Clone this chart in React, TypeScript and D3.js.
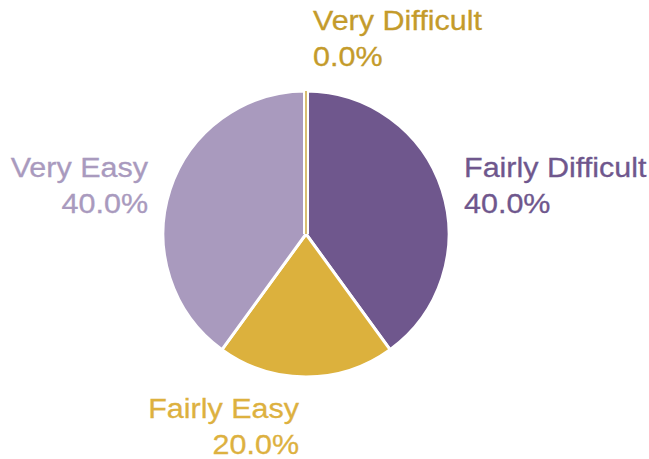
import React from "react";
import * as d3 from "d3";

const categories = ["Very Difficult", "Fairly Difficult", "Fairly Easy", "Very Easy"];
const values = [0, 40, 20, 40];
const percentLabels = ["0.0%", "40.0%", "20.0%", "40.0%"];

const sliceColors = ["#C39B27", "#6F578D", "#DCB13D", "#A99ABE"];
const textColors = ["#C49B2B", "#6F578D", "#DDB13F", "#A99ABE"];

// label placement (layout only)
const labelLayout = [
  { x: 313, y: 30, anchor: "start" },
  { x: 464, y: 177, anchor: "start" },
  { x: 299, y: 418, anchor: "end" },
  { x: 148, y: 177, anchor: "end" },
];

const W = 649;
const H = 459;
const CX = 306;
const CY = 234;
const R = 143;
const LINE = 36;
const STRETCH = 1.09;

export default function App() {
  const data = categories.map((c, i) => ({ c, v: values[i], i }));
  const pie = d3
    .pie<{ c: string; v: number; i: number }>()
    .value((d) => d.v)
    .sort(null);
  const arcs = pie(data);
  const arc = d3.arc<d3.PieArcDatum<any>>().innerRadius(0).outerRadius(R);

  const nonZero = arcs.filter((a) => a.data.v > 0);
  const zero = arcs.filter((a) => a.data.v === 0);

  return (
    <svg
      width={W}
      height={H}
      style={{ position: "absolute", left: 0, top: 0, background: "#fff" }}
      fontFamily="'Liberation Sans', Arial, sans-serif"
    >
      <g transform={`translate(${CX},${CY})`}>
        {nonZero.map((a) => (
          <path
            key={a.data.c}
            d={arc(a) || ""}
            fill={sliceColors[a.data.i]}
            stroke="#fff"
            strokeWidth={3}
            strokeLinejoin="round"
          />
        ))}
        {zero.map((a) => (
          <g key={a.data.c}>
            <path d={arc(a) || ""} fill="none" stroke="#fff" strokeWidth={6} />
            <path d={arc(a) || ""} fill="none" stroke={sliceColors[a.data.i]} strokeWidth={1.3} />
          </g>
        ))}
      </g>
      {arcs.map((a) => {
        const L = labelLayout[a.data.i];
        return (
          <text
            key={a.data.c}
            transform={`translate(${L.x},${L.y}) scale(${STRETCH},1)`}
            textAnchor={L.anchor as any}
            fill={textColors[a.data.i]}
            stroke={textColors[a.data.i]}
            strokeWidth={0.3}
            fontSize={28}
          >
            <tspan x={0} y={0}>{a.data.c}</tspan>
            <tspan x={0} dy={LINE}>
              {percentLabels[a.data.i]}
            </tspan>
          </text>
        );
      })}
    </svg>
  );
}
